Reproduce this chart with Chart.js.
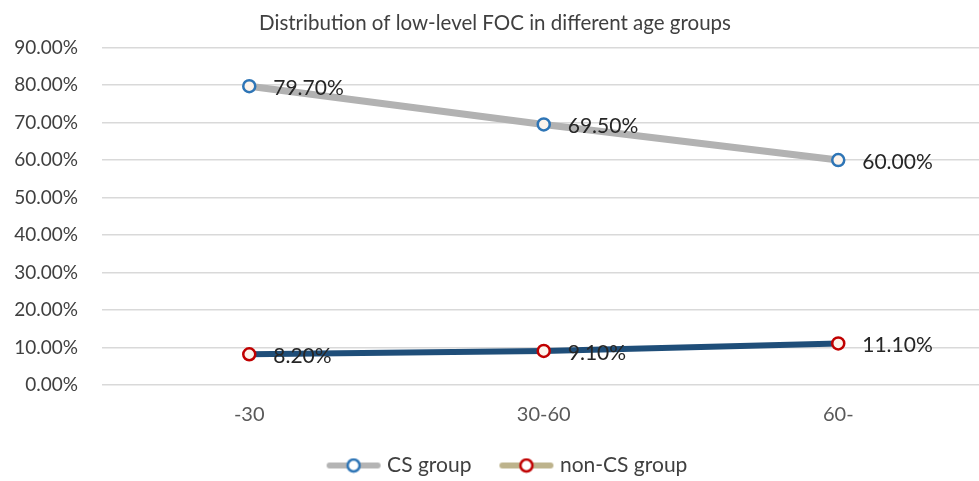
<!DOCTYPE html>
<html>
<head>
<meta charset="utf-8">
<script src="https://cdn.jsdelivr.net/npm/chart.js@4.4.1/dist/chart.umd.min.js"></script>
<style>
    html, body { margin: 0; padding: 0; background: #fff; overflow: hidden; }
    #wrap { width: 994px; height: 490px; position: relative; }
</style>
</head>
<body>
<div id="wrap"><canvas id="focChart"></canvas></div>
<script>
// Dados do gráfico
const ageGroups = ['-30', '30-60', '60-'];
const csGroup = [79.70, 69.50, 60.00];
const nonCsGroup = [8.20, 9.10, 11.10];
const yTicks = [0, 10, 20, 30, 40, 50, 60, 70, 80, 90];

const fontFamily = 'Lato, "Open Sans", "Noto Sans", sans-serif';

// Símbolo da legenda: linha + círculo
function legendSymbol(lineColor, markerColor) {
    const c = document.createElement('canvas');
    c.width = 56;
    c.height = 16;
    const ctx = c.getContext('2d');
    ctx.strokeStyle = lineColor;
    ctx.lineWidth = 6;
    ctx.lineCap = 'round';
    ctx.beginPath();
    ctx.moveTo(4, 8);
    ctx.lineTo(52, 8);
    ctx.stroke();
    ctx.beginPath();
    ctx.arc(28, 8, 6, 0, Math.PI * 2);
    ctx.fillStyle = '#ffffff';
    ctx.fill();
    ctx.lineWidth = 2.5;
    ctx.strokeStyle = markerColor;
    ctx.stroke();
    return c;
}

const legendIcons = [
    legendSymbol('#B4B4B4', '#2E75B6'),
    legendSymbol('#BDB38C', '#C00000')
];

// Ajustes: posição da legenda e rótulos de dados
const dataLabels = {
    id: 'dataLabels',
    afterLayout(chart) {
        const lg = chart.legend;
        const h = lg.bottom - lg.top;
        lg.top = 423;
        lg.bottom = 423 + h;
        lg.left += 14;
        lg.right += 14;
    },
    afterDatasetsDraw(chart) {
        const ctx = chart.ctx;
        ctx.save();
        ctx.font = '21px ' + fontFamily;
        ctx.fillStyle = '#262626';
        ctx.textAlign = 'left';
        ctx.textBaseline = 'middle';
        chart.data.datasets.forEach((ds, i) => {
            chart.getDatasetMeta(i).data.forEach((pt, j) => {
                ctx.fillText(ds.data[j].toFixed(2) + '%', pt.x + 24, pt.y + 2);
            });
        });
        ctx.restore();
    }
};

new Chart(document.getElementById('focChart'), {
    type: 'line',
    data: {
        labels: ageGroups,
        datasets: [
            {
                label: 'CS group',
                data: csGroup,
                borderColor: '#B2B2B2',
                borderWidth: 7,
                pointRadius: 6,
                pointBorderWidth: 2.5,
                pointBorderColor: '#2E75B6',
                pointBackgroundColor: '#FDF4EC',
                tension: 0
            },
            {
                label: 'non-CS group',
                data: nonCsGroup,
                borderColor: '#1F4E79',
                borderWidth: 6,
                pointRadius: 6,
                pointBorderWidth: 2.5,
                pointBorderColor: '#C00000',
                pointBackgroundColor: '#FDF4EC',
                tension: 0
            }
        ]
    },
    options: {
        responsive: true,
        maintainAspectRatio: false,
        animation: false,
        layout: { padding: { left: 0, right: 4, top: 11, bottom: 0 } },
        plugins: {
            title: {
                display: true,
                text: 'Distribution of low-level FOC in different age groups',
                color: '#404040',
                font: { family: fontFamily, size: 20.5, weight: 'normal' },
                padding: { top: 0, bottom: 12 }
            },
            legend: {
                position: 'bottom',
                labels: {
                    usePointStyle: true,
                    pointStyleWidth: 46,
                    boxHeight: 16,
                    padding: 32,
                    color: '#404040',
                    font: { family: fontFamily, size: 21 },
                    generateLabels(chart) {
                        return chart.data.datasets.map((ds, i) => ({
                            text: ds.label,
                            pointStyle: legendIcons[i],
                            fillStyle: '#fff',
                            strokeStyle: '#fff',
                            lineWidth: 0,
                            fontColor: '#404040',
                            datasetIndex: i
                        }));
                    }
                }
            },
            tooltip: { enabled: false }
        },
        scales: {
            x: {
                offset: true,
                afterFit(axis) { axis.height = 42; },
                grid: { display: false, drawTicks: false },
                border: { display: false },
                ticks: {
                    color: '#595959',
                    font: { family: fontFamily, size: 20 },
                    padding: 18
                }
            },
            y: {
                min: 0,
                max: 90,
                afterBuildTicks(axis) {
                    axis.ticks = yTicks.map(v => ({ value: v }));
                },
                afterFit(axis) { axis.width = 102; },
                grid: { color: '#D9D9D9', lineWidth: 1.5, drawTicks: false },
                border: { display: false },
                ticks: {
                    color: '#404040',
                    font: { family: fontFamily, size: 19 },
                    padding: 24,
                    callback: v => v.toFixed(2) + '%'
                }
            }
        }
    },
    plugins: [dataLabels]
});
</script>
</body>
</html>
